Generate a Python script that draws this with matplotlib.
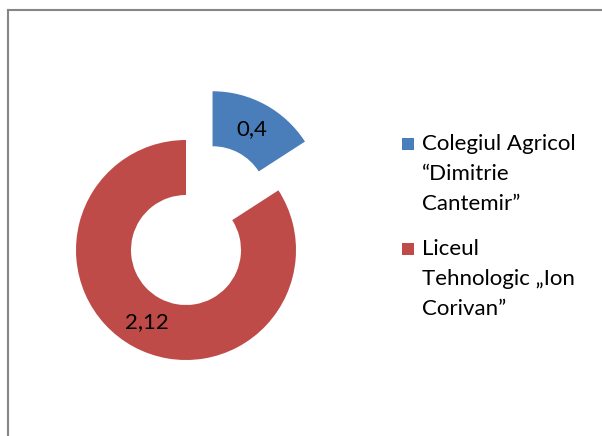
import matplotlib
matplotlib.use("Agg")
import matplotlib.pyplot as plt
from matplotlib.patches import Rectangle
from matplotlib.lines import Line2D

# Data
categories = ["Colegiul Agricol\n\u201cDimitrie\nCantemir\u201d",
              "Liceul\nTehnologic \u201eIon\nCorivan\u201d"]
values = [0.4, 2.12]
colors = ["#4A7EBB", "#BE4B48"]
explode = [55.5, 0.0]

W, H = 602, 436
fig = plt.figure(figsize=(W / 100, H / 100), dpi=100)
ax = fig.add_axes([0, 0, 1, 1])
ax.set_xlim(0, W)
ax.set_ylim(0, H)
ax.set_aspect("equal")
ax.axis("off")

FONT = "Lato"
FS = 16

labels = [f"{v:g}".replace(".", ",") for v in values]
wedges, texts = ax.pie(values, colors=colors, explode=explode, labels=labels,
                       startangle=90, counterclock=False, radius=110,
                       center=(186, H - 250), labeldistance=0.75,
                       wedgeprops=dict(width=55, linewidth=0),
                       textprops=dict(fontsize=FS, family=FONT, color="black"))
for t in texts:
    t.set_ha("center")
    t.set_va("center")
ax.set_xlim(0, W)
ax.set_ylim(0, H)

# Legend (manual)
y_first = [144, 249]
for lab, col, yc in zip(categories, colors, y_first):
    ax.add_patch(Rectangle((402, H - yc - 6), 12, 12, facecolor=col, edgecolor="none"))
    ax.text(422, H - yc + 10, lab, fontsize=FS, family=FONT, ha="left", va="top",
            linespacing=1.62)

# Border (top and left)
fig.add_artist(Line2D([8 / W, 1.0], [1 - 10 / H, 1 - 10 / H], color="#868686", lw=1.5,
                      transform=fig.transFigure))
fig.add_artist(Line2D([8 / W, 8 / W], [0, 1 - 10 / H], color="#868686", lw=1.5,
                      transform=fig.transFigure))

fig.savefig("out.png", dpi=100)
